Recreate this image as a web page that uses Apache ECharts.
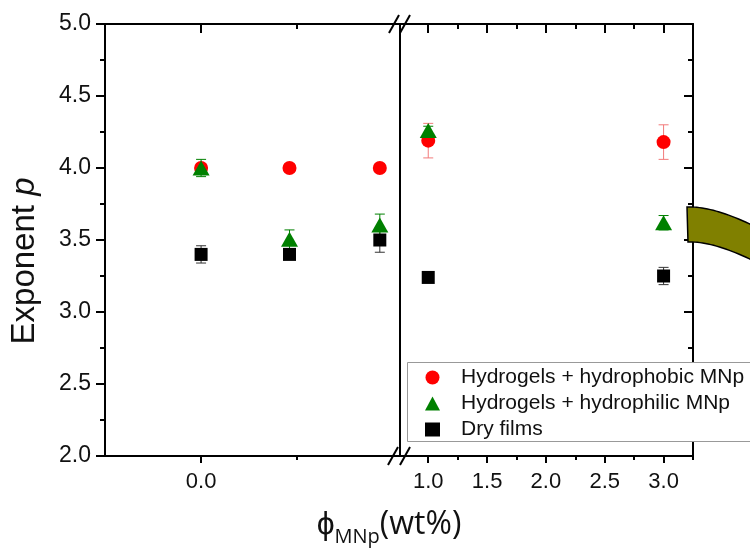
<!DOCTYPE html>
<html>
<head>
<meta charset="utf-8">
<script src="https://cdn.jsdelivr.net/npm/echarts@6/dist/echarts.min.js"></script>
<style>
  html, body { margin: 0; padding: 0; background: #fff; }
  #chart { width: 750px; height: 551px; }
</style>
</head>
<body>
<div id="chart"></div>
<script>
// Nanoparticle loading (wt%) on the two sides of the broken x axis
const phiLow = [0, 0.046, 0.093];
const phiHigh = [1.0, 3.0];

// Exponent p with its error, per sample family
const hydrophobicLow = [4.00, 4.00, 4.00];
const hydrophobicLowErr = [0.03, 0.03, 0.03];
const hydrophobicHigh = [4.19, 4.18];
const hydrophobicHighErr = [0.12, 0.12];

const hydrophilicLow = [4.00, 3.505, 3.605];
const hydrophilicLowErr = [0.06, 0.065, 0.075];
const hydrophilicHigh = [4.26, 3.62];
const hydrophilicHighErr = [0.03, 0.05];

const dryLow = [3.40, 3.40, 3.50];
const dryLowErr = [0.06, 0.03, 0.085];
const dryHigh = [3.24, 3.25];
const dryHighErr = [0.02, 0.06];

// Axis ranges and tick positions
const lowRange = [-0.05, 0.1035];
const highRange = [0.76, 3.25];
const lowMajorTicks = [0.0];
const lowMinorTicks = [0.05];
const highMajorTicks = [1.0, 1.5, 2.0, 2.5, 3.0];
const highMinorTicks = [1.25, 1.75, 2.25, 2.75, 3.25];
const yRange = [2.0, 5.0];
const yStep = 0.5;

const seriesNames = ['Hydrogels + hydrophobic MNp', 'Hydrogels + hydrophilic MNp', 'Dry films'];

const black = '#000';
const lineStyle = { color: black, width: 2 };
const tickFont = { fontFamily: 'Liberation Sans, Arial, sans-serif', color: '#111' };

function xAxisDef(grid, pos, range, ticks, len, withLine, labels) {
  return {
    type: 'value', gridIndex: grid, position: pos, min: range[0], max: range[1],
    axisLine: { show: withLine, onZero: false, lineStyle: lineStyle },
    axisTick: { show: true, customValues: ticks, length: len, inside: pos === 'top', lineStyle: { color: black, width: 2 } },
    axisLabel: labels ? Object.assign({ show: true, customValues: ticks, formatter: v => v.toFixed(1), margin: 15, fontSize: 22 }, tickFont) : { show: false },
    splitLine: { show: false }
  };
}

const xAxes = [
  xAxisDef(0, 'bottom', lowRange, lowMajorTicks, 7, true, true),
  xAxisDef(0, 'bottom', lowRange, lowMinorTicks, 4, false, false),
  xAxisDef(0, 'top', lowRange, lowMajorTicks, 9, true, false),
  xAxisDef(0, 'top', lowRange, lowMinorTicks, 5, false, false),
  xAxisDef(1, 'bottom', highRange, highMajorTicks, 7, true, true),
  xAxisDef(1, 'bottom', highRange, highMinorTicks, 4, false, false),
  xAxisDef(1, 'top', highRange, highMajorTicks, 9, true, false),
  xAxisDef(1, 'top', highRange, highMinorTicks, 5, false, false)
];

const yAxes = [
  {
    type: 'value', gridIndex: 0, position: 'left', min: yRange[0], max: yRange[1], interval: yStep,
    axisLine: { show: true, onZero: false, lineStyle: lineStyle },
    axisTick: { show: true, length: 9, lineStyle: { color: black, width: 2 } },
    minorTick: { show: true, splitNumber: 2, length: 5, lineStyle: { color: black, width: 2 } },
    axisLabel: Object.assign({ formatter: v => v.toFixed(1), margin: 14, fontSize: 23 }, tickFont),
    splitLine: { show: false }
  },
  {
    type: 'value', gridIndex: 1, position: 'left', min: yRange[0], max: yRange[1], interval: yStep,
    axisLine: { show: true, onZero: false, lineStyle: lineStyle },
    axisTick: { show: false }, axisLabel: { show: false }, splitLine: { show: false }
  },
  {
    type: 'value', gridIndex: 1, position: 'right', min: yRange[0], max: yRange[1], interval: yStep,
    axisLine: { show: true, onZero: false, lineStyle: lineStyle },
    axisTick: { show: true, inside: true, length: 9, lineStyle: { color: black, width: 2 } },
    minorTick: { show: true, splitNumber: 2, length: 5, lineStyle: { color: black, width: 2 } },
    axisLabel: { show: false }, splitLine: { show: false }
  }
];

function markers(name, xs, ys, symbol, size, color, xi, yi) {
  return {
    type: 'scatter', name: name, xAxisIndex: xi, yAxisIndex: yi,
    symbol: symbol, symbolSize: size,
    itemStyle: { color: color, opacity: 1 },
    data: xs.map((x, i) => [x, ys[i]])
  };
}

function errorBars(name, xs, ys, errs, color, xi, yi) {
  return {
    type: 'custom', name: name, xAxisIndex: xi, yAxisIndex: yi,
    encode: { x: 0, y: [1, 2] },
    data: xs.map((x, i) => [x, ys[i] - errs[i], ys[i] + errs[i]]),
    renderItem: function (params, api) {
      const lo = api.coord([api.value(0), api.value(1)]);
      const hi = api.coord([api.value(0), api.value(2)]);
      const hw = 5;
      const st = { stroke: color, lineWidth: 1 };
      return {
        type: 'group',
        children: [
          { type: 'line', shape: { x1: lo[0], y1: lo[1], x2: hi[0], y2: hi[1] }, style: st },
          { type: 'line', shape: { x1: lo[0] - hw, y1: lo[1], x2: lo[0] + hw, y2: lo[1] }, style: st },
          { type: 'line', shape: { x1: hi[0] - hw, y1: hi[1], x2: hi[0] + hw, y2: hi[1] }, style: st }
        ]
      };
    }
  };
}

const red = '#ff0000', redErr = '#f27a7a';
const green = '#008000';
const darkErr = '#333';

const series = [];
[[0, 0, phiLow, dryLow, dryLowErr, hydrophobicLow, hydrophobicLowErr, hydrophilicLow, hydrophilicLowErr],
 [4, 1, phiHigh, dryHigh, dryHighErr, hydrophobicHigh, hydrophobicHighErr, hydrophilicHigh, hydrophilicHighErr]]
  .forEach(function (s) {
    const xi = s[0], yi = s[1], xs = s[2];
    series.push(markers(seriesNames[2], xs, s[3], 'rect', 13, black, xi, yi));
    series.push(errorBars(seriesNames[2], xs, s[3], s[4], darkErr, xi, yi));
    series.push(markers(seriesNames[0], xs, s[5], 'circle', 14, red, xi, yi));
    series.push(errorBars(seriesNames[0], xs, s[5], s[6], redErr, xi, yi));
    series.push(markers(seriesNames[1], xs, s[7], 'triangle', [17, 15], green, xi, yi));
    series.push(errorBars(seriesNames[1], xs, s[7], s[8], green, xi, yi));
  });

// Outline of the curved arrow band: two quadratic edges joined at the ends
function quadPoints(p0, c, p1, n) {
  const pts = [];
  for (let i = 0; i <= n; i++) {
    const t = i / n, u = 1 - t;
    pts.push([u * u * p0[0] + 2 * u * t * c[0] + t * t * p1[0],
              u * u * p0[1] + 2 * u * t * c[1] + t * t * p1[1]]);
  }
  return pts;
}
const bandPoints = quadPoints([687, 207], [715, 206], [760, 229], 24)
  .concat(quadPoints([760, 264], [715, 241], [688, 242], 24));

const chart = echarts.init(document.getElementById('chart'), null, { renderer: 'canvas' });
chart.setOption({
  backgroundColor: '#fff',
  animation: false,
  grid: [
    { left: 105, top: 24, width: 295, height: 432, containLabel: false },
    { left: 400, top: 24, width: 293, height: 432, containLabel: false }
  ],
  xAxis: xAxes,
  yAxis: yAxes,
  legend: {
    orient: 'vertical', left: 407, top: 362,
    padding: [5, 0, 1, 18],
    itemWidth: 15, itemHeight: 14, itemGap: 5,
    selectedMode: false,
    z: 20,
    textStyle: { fontFamily: 'Liberation Sans, Arial, sans-serif', fontSize: 21, color: '#111', padding: [0, 0, 0, 16] },
    data: [
      { name: seriesNames[0], icon: 'circle', itemStyle: { color: red } },
      { name: seriesNames[1], icon: 'triangle', itemStyle: { color: green } },
      { name: seriesNames[2], icon: 'rect', itemStyle: { color: black } }
    ]
  },
  series: series,
  graphic: [
    // legend frame, running past the right edge of the canvas
    {
      type: 'rect', z: 10,
      shape: { x: 407.5, y: 362.5, width: 400, height: 79 },
      style: { fill: '#fff', stroke: '#999', lineWidth: 1 }
    },
    {
      type: 'text', x: 25, y: 261, rotation: Math.PI / 2, z: 50,
      style: {
        text: '{a|Exponent }{b|p}', align: 'center', verticalAlign: 'middle',
        rich: {
          a: { fontSize: 33, fontFamily: 'Liberation Sans, Arial, sans-serif', fill: '#111' },
          b: { fontSize: 33, fontFamily: 'Liberation Sans, Arial, sans-serif', fontStyle: 'italic', fill: '#111' }
        }
      }
    },
    {
      type: 'text', x: 389, y: 503, z: 50,
      style: {
        text: '{a|ϕ}{s|MNp}{a|(wt%)}', align: 'center', verticalAlign: 'top',
        rich: {
          a: { fontSize: 32, fontFamily: 'Open Sans, sans-serif', fill: '#111', lineHeight: 44 },
          s: { fontSize: 20, fontFamily: 'Open Sans, sans-serif', fill: '#111', lineHeight: 12, verticalAlign: 'bottom' }
        }
      }
    },
    // axis break marks
    { type: 'line', z: 60, shape: { x1: 389, y1: 33, x2: 399, y2: 15 }, style: { stroke: black, lineWidth: 2 } },
    { type: 'line', z: 60, shape: { x1: 400, y1: 33, x2: 410, y2: 15 }, style: { stroke: black, lineWidth: 2 } },
    { type: 'line', z: 60, shape: { x1: 388, y1: 465, x2: 398, y2: 447 }, style: { stroke: black, lineWidth: 2 } },
    { type: 'line', z: 60, shape: { x1: 400, y1: 465, x2: 410, y2: 447 }, style: { stroke: black, lineWidth: 2 } },
    // curved arrow band entering from the right
    {
      type: 'polygon', z: 100,
      shape: { points: bandPoints },
      style: { fill: '#808000', stroke: black, lineWidth: 1.5 }
    }
  ]
});
</script>
</body>
</html>
